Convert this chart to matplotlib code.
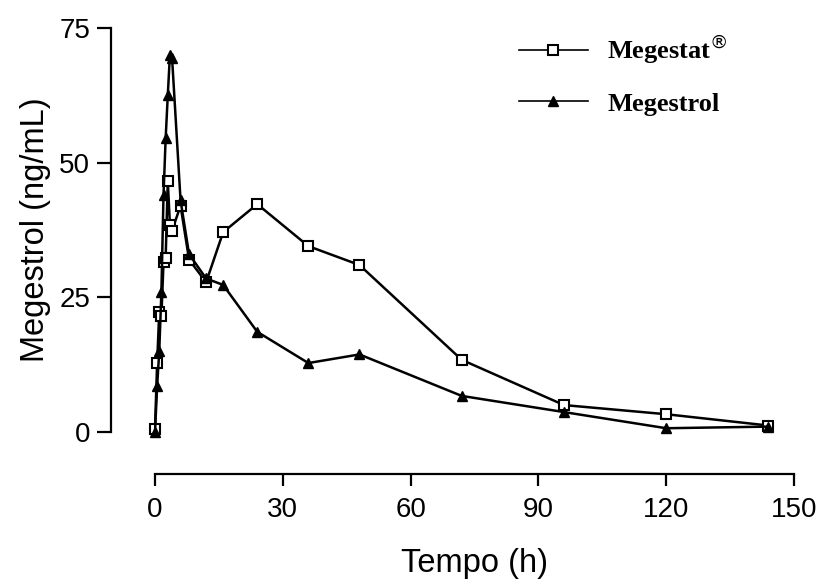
import matplotlib
matplotlib.use('Agg')
import matplotlib.pyplot as plt

# tempos de coleta (h)
tempo = [0, 0.5, 1, 1.5, 2, 2.5, 3, 3.5, 4, 6, 8, 12, 16, 24, 36, 48, 72, 96, 120, 144]

# concentracoes (ng/mL)
megestat = [0.5, 12.8, 22.3, 21.5, 31.5, 32.3, 46.6, 38.5, 37.4, 42.0, 32.0, 27.8, 37.1,
            42.3, 34.5, 31.0, 13.4, 5.0, 3.3, 1.2]
megestrol = [0, 8.5, 15.0, 26.0, 44.0, 54.5, 62.5, 70.0, 69.5, 43.0, 33.0, 28.5, 27.3,
             18.6, 12.8, 14.4, 6.7, 3.7, 0.7, 1.0]

x_ticks = [0, 30, 60, 90, 120, 150]
y_ticks = [0, 25, 50, 75]

plt.rcParams['font.family'] = ['Liberation Sans', 'DejaVu Sans']

fig = plt.figure(figsize=(8.24, 5.81), dpi=100)
ax = fig.add_axes([155 / 824, 1 - 432 / 581, 639 / 824, 404 / 581])

ax.plot(tempo, megestat, color='black', linewidth=1.8, marker='s', markersize=6.5,
        markerfacecolor='white', markeredgecolor='black', markeredgewidth=1.5,
        clip_on=False, zorder=3, label='Megestat$^{®}$')
ax.plot(tempo, megestrol, color='black', linewidth=1.8, marker='^', markersize=6.5,
        markerfacecolor='black', markeredgecolor='black',
        clip_on=False, zorder=4, label='Megestrol')

ax.set_xlim(0, 150)
ax.set_ylim(0, 75)
ax.set_xticks(x_ticks)
ax.set_yticks(y_ticks)

for s in ['top', 'right']:
    ax.spines[s].set_visible(False)
ax.spines['left'].set_position(('outward', 31.7))
ax.spines['bottom'].set_position(('outward', 30.5))
ax.spines['left'].set_linewidth(1.6)
ax.spines['bottom'].set_linewidth(1.6)

ax.tick_params(axis='y', direction='out', length=10, width=1.6, pad=5, labelsize=20)
ax.tick_params(axis='x', direction='out', length=8.5, width=1.6, pad=8, labelsize=20)

ax.set_xlabel('Tempo (h)', fontsize=23.5, labelpad=18)
ax.set_ylabel('Megestrol (ng/mL)', fontsize=23.5, labelpad=6)

leg = ax.legend(loc='upper left', bbox_to_anchor=(519 / 824, 1 - 33 / 581),
                bbox_transform=fig.transFigure, frameon=False, borderpad=0,
                borderaxespad=0, handlelength=2.6, handletextpad=0.75,
                labelspacing=1.0,
                prop={'family': 'Liberation Serif', 'weight': 'bold', 'size': 19})
for h in leg.legend_handles:
    h.set_linewidth(1.2)

fig.savefig('out.png', dpi=100)
